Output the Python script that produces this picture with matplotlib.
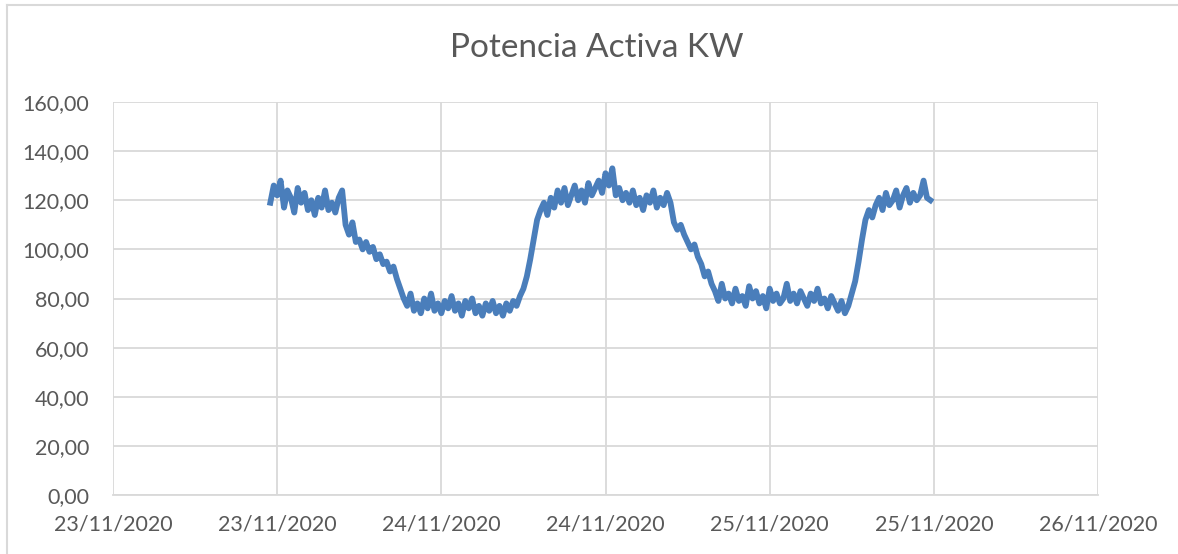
import numpy as np
import pandas as pd
import matplotlib
matplotlib.use('Agg')
from matplotlib import pyplot as plt
import matplotlib.dates as mdates
from matplotlib.ticker import FuncFormatter, MultipleLocator

# active power readings, one every 15 min, from 23/11/2020 11:30
inicio = '2020-11-23 11:30'
potencia_kw = [
    119, 126,
    122, 128, 117, 124,   # 12h
    121, 115, 125, 119,
    123, 116, 120, 114,
    121, 117, 124, 116,
    119, 115, 121, 124,   # 16h
    110, 106, 111, 103,
    104, 100, 103, 99,
    101, 96, 98, 94,
    95, 91, 93, 88,       # 20h
    84, 80, 77, 82,
    75, 78, 74, 80,
    76, 82, 75, 78,
    74, 79, 76, 81,       # 24/11 0h
    75, 78, 73, 79,
    76, 80, 74, 77,
    73, 78, 75, 79,
    74, 77, 73, 78,       # 4h
    75, 79, 77, 81,
    84, 89, 96, 104,
    112, 116, 119, 114,
    121, 117, 124, 119,   # 8h
    125, 118, 122, 126,
    120, 124, 119, 127,
    122, 125, 128, 123,
    131, 126, 133, 122,   # 12h
    125, 120, 123, 119,
    124, 118, 121, 116,
    122, 119, 124, 117,
    121, 118, 123, 119,   # 16h
    111, 108, 110, 106,
    103, 100, 102, 97,
    94, 89, 91, 86,
    83, 79, 86, 80,       # 20h
    82, 78, 84, 79,
    81, 77, 85, 80,
    83, 78, 81, 76,
    84, 79, 82, 78,       # 25/11 0h
    80, 86, 79, 82,
    78, 83, 80, 77,
    82, 79, 84, 78,
    80, 76, 81, 78,       # 4h
    75, 79, 74, 77,
    82, 87, 95, 104,
    112, 116, 113, 118,
    121, 116, 123, 118,   # 8h
    120, 124, 117, 122,
    125, 119, 123, 120,
    122, 128, 121, 120,
]
fechas = pd.date_range(inicio, periods=len(potencia_kw), freq='15min')

x_ini = pd.Timestamp('2020-11-23 00:00')
x_fin = pd.Timestamp('2020-11-26 00:00')
y_max = 160
titulo = 'Potencia Activa KW'

gris = '#d9d9d9'
texto = '#595959'
azul = '#4a7ebb'

plt.rcParams['font.family'] = ['Lato', 'DejaVu Sans']

fig = plt.figure(figsize=(11.78, 5.54), dpi=100)
ax = fig.add_axes([113/1178, 59/554, 985/1178, 393/554])

ax.plot(fechas, potencia_kw, color=azul, lw=4.2, solid_joinstyle='round')

ax.set_xlim(x_ini, x_fin)
ax.set_ylim(0, y_max)
ax.xaxis.set_major_locator(mdates.HourLocator(byhour=[0, 12]))
ax.xaxis.set_major_formatter(mdates.DateFormatter('%d/%m/%Y'))
ax.yaxis.set_major_locator(MultipleLocator(20))
ax.yaxis.set_major_formatter(FuncFormatter(lambda v, p: ('%.2f' % v).replace('.', ',')))

ax.grid(True, color=gris, lw=1.3)
ax.set_axisbelow(True)
for s in ['top', 'right', 'left']:
    ax.spines[s].set_visible(False)
ax.spines['bottom'].set_color(gris)
ax.spines['bottom'].set_linewidth(1.3)
ax.tick_params(length=0, labelcolor=texto, labelsize=15.5)
ax.tick_params(axis='y', pad=17)
ax.tick_params(axis='x', pad=14)

fig.text(597/1178, 1 - 48/554, titulo, ha='center', va='center',
         fontsize=24, color=texto)

# chart area border (top and left only are in frame)
fig.add_artist(plt.Line2D([7/1178, 1], [1 - 5/554] * 2, color=gris, lw=1.5))
fig.add_artist(plt.Line2D([7/1178] * 2, [0, 1 - 5/554], color=gris, lw=1.5))

fig.savefig('out.png', dpi=100)
